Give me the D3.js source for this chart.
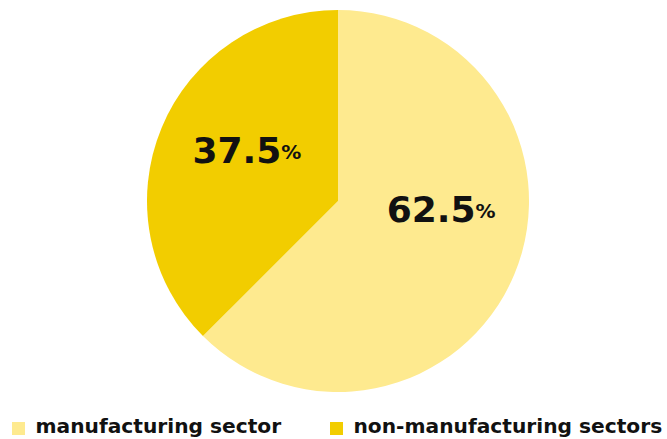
<!DOCTYPE html>
<html><head><meta charset="utf-8">
<script src="https://cdn.jsdelivr.net/npm/d3@7"></script>
<style>body{margin:0;background:#fff;}svg{display:block;}</style>
</head><body>
<svg id="c" width="667" height="439"></svg>
<script>
const categories = ["manufacturing sector", "non-manufacturing sectors"];
const values = [62.5, 37.5];
const colors = ["#FEEA8F", "#F2CD00"];

const svg = d3.select("#c");
const cx = 338, cy = 201, R = 191;
const font = "'DejaVu Sans', Verdana, sans-serif";

const pie = d3.pie().sort(null).value(d => d)(values);
const arc = d3.arc().innerRadius(0).outerRadius(R);
const g = svg.append("g").attr("transform", `translate(${cx},${cy})`);
g.selectAll("path").data(pie).join("path")
  .attr("d", arc).attr("fill", (d, i) => colors[i]);

// labels
const labelArc = d3.arc().innerRadius(103).outerRadius(103);
const labelOffsets = [[8, -28], [4, -9]];
pie.forEach((d, i) => {
  const [x, y] = labelArc.centroid(d);
  const t = g.append("text")
    .attr("x", x + labelOffsets[i][0]).attr("y", y + labelOffsets[i][1])
    .attr("text-anchor", "middle").attr("dominant-baseline", "middle")
    .attr("font-family", font).attr("font-weight", "bold").attr("fill", "#111");
  t.append("tspan").attr("font-size", 36).text(d3.format(".1f")(values[i]));
  t.append("tspan").attr("font-size", 20).text("%");
});

// legend
const legendX = [12, 330];
categories.forEach((c, i) => {
  const lg = svg.append("g").attr("transform", `translate(${legendX[i]},0)`);
  lg.append("rect").attr("x", 0).attr("y", 422).attr("width", 13).attr("height", 13)
    .attr("fill", colors[i]);
  lg.append("text").attr("x", 23.5).attr("y", 433)
    .attr("font-family", font).attr("font-weight", "bold").attr("font-size", 20.2)
    .attr("fill", "#111").text(c);
});
</script>
</body></html>
